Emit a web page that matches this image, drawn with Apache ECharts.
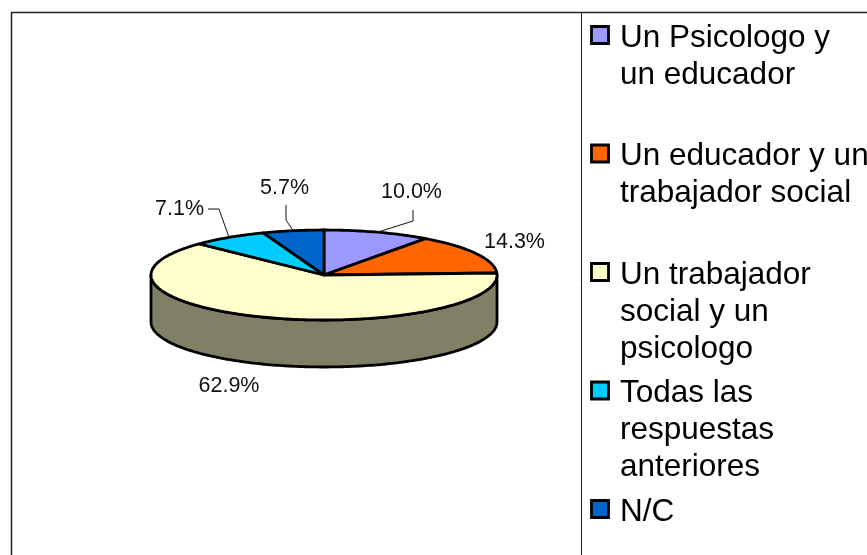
<!DOCTYPE html>
<html>
<head>
<meta charset="utf-8">
<title>Pie</title>
<style>
  html, body { margin: 0; padding: 0; background: #fff; }
  #chart { width: 867px; height: 555px; }
</style>
<script src="https://cdn.jsdelivr.net/npm/echarts@6/dist/echarts.min.js"></script>
</head>
<body>
<div id="chart"></div>
<script>
var categories = [
  "Un Psicologo y\nun educador",
  "Un educador y un\ntrabajador social",
  "Un trabajador\nsocial y un\npsicologo",
  "Todas las\nrespuestas\nanteriores",
  "N/C"
];
var values = [10.0, 14.3, 62.9, 7.1, 5.7];
var colors = ["#9999ff", "#ff6600", "#ffffcc", "#00ccff", "#0066cc"];
var sideColors = ["#4d4d80", "#803300", "#808066", "#006680", "#003366"];

// pie geometry
var cx = 324, cy = 275, rx = 173, ry = 45, depth = 47;
var stroke = "#000";
var total = values.reduce(function (a, b) { return a + b; }, 0);

// label centre, then the leader's elbow and end (slices without a leader have none)
var labelPos = [[411.5, 192], [514.5, 242], [229, 386], [179.5, 209], [284.5, 188]];
var leaders = [
  [[413, 221], [413, 210]],
  null,
  null,
  [[219, 209], [208, 209]],
  [[286, 220], [286, 205]]
];

function startAngle(i) {
  var sum = 0;
  for (var k = 0; k < i; k++) sum += values[k];
  return sum / total * 360;
}

function rim(deg, dy) {
  var a = deg * Math.PI / 180;
  return [cx + rx * Math.sin(a), cy - ry * Math.cos(a) + (dy || 0)];
}

function arc(from, to, dy) {
  var pts = [];
  var n = Math.max(2, Math.ceil(Math.abs(to - from)));
  for (var i = 0; i <= n; i++) pts.push(rim(from + (to - from) * i / n, dy));
  return pts;
}

// visible outer wall, only the part of the slice facing front (90 to 270 deg)
function renderSide(params, api) {
  var i = params.dataIndex;
  var from = Math.max(startAngle(i), 90);
  var to = Math.min(startAngle(i) + api.value(0) / total * 360, 270);
  if (to <= from) return { type: "group", children: [] };
  return {
    type: "polygon",
    shape: { points: arc(from, to, 0).concat(arc(to, from, depth)) },
    style: { fill: sideColors[i], stroke: stroke, lineWidth: 2.8, lineJoin: "round" }
  };
}

function renderTop(params, api) {
  var i = params.dataIndex;
  var from = startAngle(i);
  var to = from + api.value(0) / total * 360;
  var children = [{
    type: "polygon",
    shape: { points: [[cx, cy]].concat(arc(from, to, 0)) },
    style: { fill: colors[i], stroke: stroke, lineWidth: 2.8, lineJoin: "round" }
  }];
  if (leaders[i]) {
    children.push({
      type: "polyline",
      shape: { points: [rim((from + to) / 2)].concat(leaders[i]) },
      style: { fill: null, stroke: "#111", lineWidth: 1 }
    });
  }
  children.push({
    type: "text",
    style: {
      x: labelPos[i][0], y: labelPos[i][1],
      text: api.value(0).toFixed(1) + "%",
      fill: "#111",
      font: '21.5px "Liberation Sans", Arial, sans-serif',
      align: "center", verticalAlign: "middle"
    }
  });
  return { type: "group", children: children };
}

// legend: swatch and text, first lines 118.5px apart
var legendY = 36, legendStep = 118.5;
var graphics = [
  { type: "polyline", silent: true, shape: { points: [[11.5, 555], [11.5, 12.5], [867, 12.5]] },
    style: { fill: null, stroke: "#222", lineWidth: 1.5 } },
  { type: "line", silent: true, shape: { x1: 581.5, y1: 12, x2: 581.5, y2: 555 },
    style: { stroke: "#222", lineWidth: 1 } }
];
categories.forEach(function (name, i) {
  var y = legendY + legendStep * i;
  graphics.push({
    type: "rect", silent: true,
    shape: { x: 591.5, y: y - 9.5, width: 17, height: 17 },
    style: { fill: colors[i], stroke: stroke, lineWidth: 2.8 }
  });
  graphics.push({
    type: "text", silent: true,
    style: {
      x: 620, y: y - 16.5, text: name, fill: "#000",
      font: '31.5px "Liberation Sans", Arial, sans-serif',
      lineHeight: 37, align: "left", verticalAlign: "top"
    }
  });
});

var chart = echarts.init(document.getElementById("chart"), null, { renderer: "canvas" });
chart.setOption({
  animation: false,
  backgroundColor: "#fff",
  graphic: graphics,
  series: [
    { type: "custom", coordinateSystem: "none", silent: true, z: 1, data: values, renderItem: renderSide },
    { type: "custom", coordinateSystem: "none", silent: true, z: 2, data: values, renderItem: renderTop }
  ]
});
</script>
</body>
</html>
